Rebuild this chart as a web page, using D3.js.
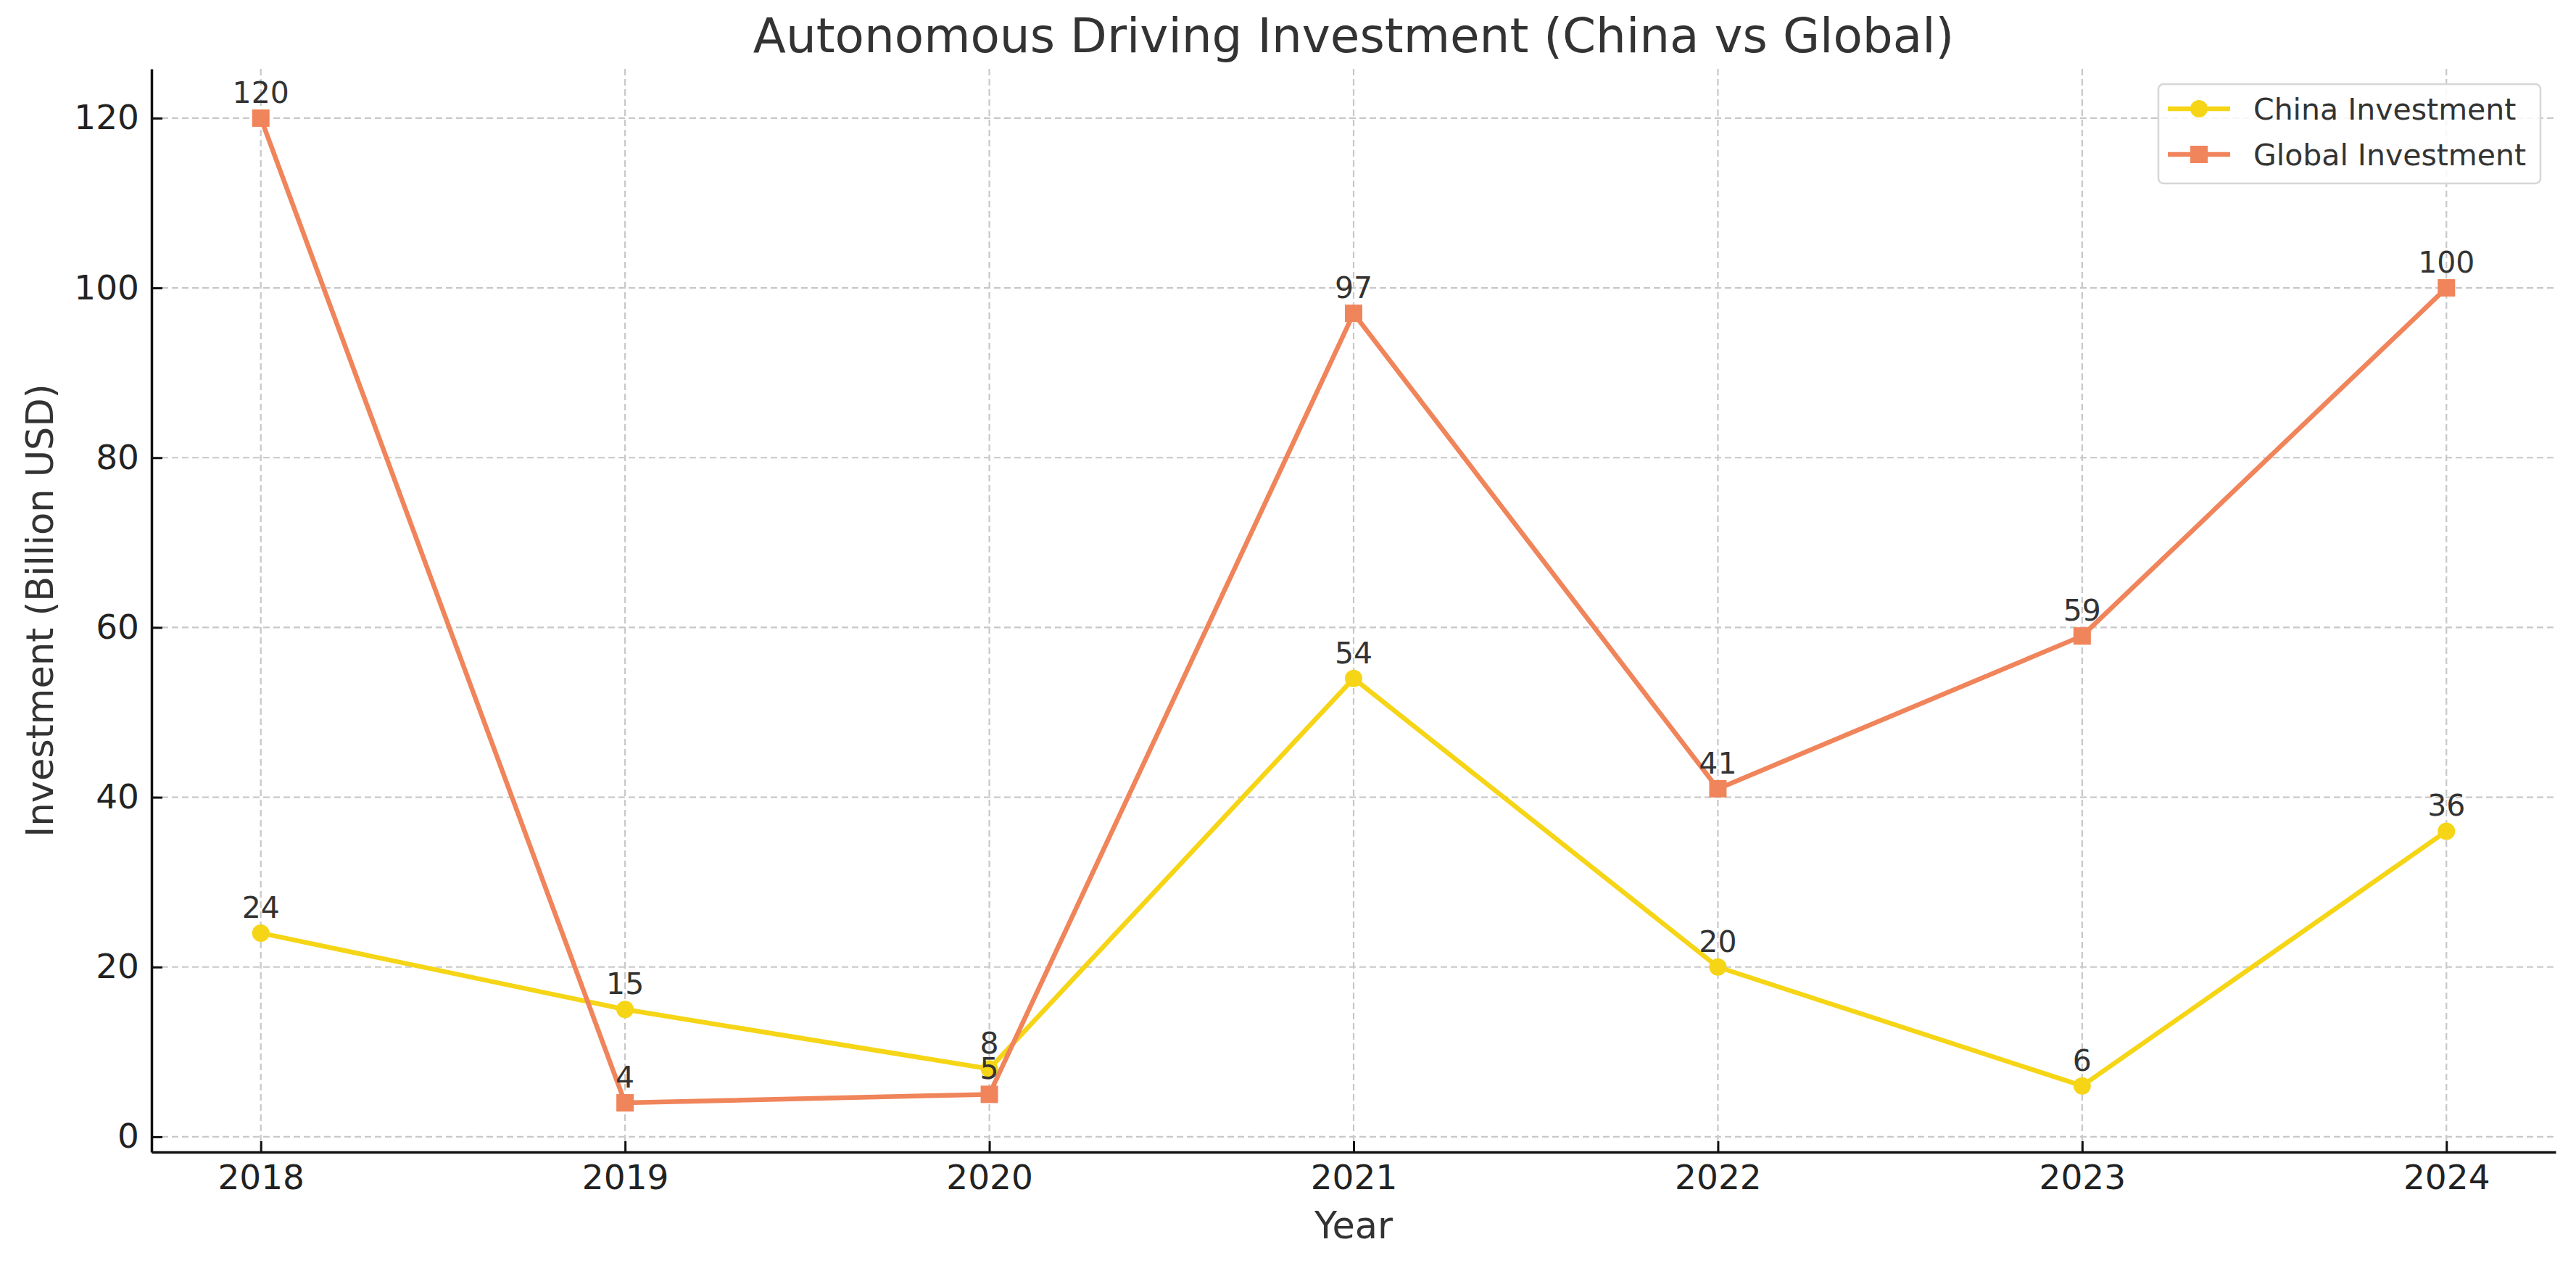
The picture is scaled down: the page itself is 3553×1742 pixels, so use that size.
<!DOCTYPE html>
<html>
<head>
<meta charset="utf-8">
<script src="https://cdn.jsdelivr.net/npm/d3@7"></script>
<style>
  html, body { margin: 0; padding: 0; background: #fff; }
  svg { display: block; font-family: "DejaVu Sans", sans-serif; }
</style>
</head>
<body>
<svg id="chart" width="3553" height="1742"></svg>
<script>
const years = [2018, 2019, 2020, 2021, 2022, 2023, 2024];
const chinaInvestment = [24, 15, 8, 54, 20, 6, 36];
const globalInvestment = [120, 4, 5, 97, 41, 59, 100];
const yTicks = [0, 20, 40, 60, 80, 100, 120];
const seriesNames = ["China Investment", "Global Investment"];

const plotLeft = 209, plotRight = 3525, plotTop = 95, plotBottom = 1589;
const chinaColor = "#F5D516";
const globalColor = "#F0845A";
const textColor = "#333333";

const svg = d3.select("#chart");

const x = d3.scaleLinear().domain([2017.7, 2024.3]).range([plotLeft, plotRight]);
const y = d3.scaleLinear().domain([-1.8, 125.8]).range([plotBottom, plotTop]);

// grid
const grid = svg.append("g").attr("class", "grid");
grid.selectAll("line.gx").data(years).enter().append("line")
  .attr("x1", d => x(d)).attr("x2", d => x(d))
  .attr("y1", plotTop).attr("y2", plotBottom)
  .attr("stroke", "#c8c8c8").attr("stroke-width", 2.2).attr("stroke-dasharray", "9,5");
grid.selectAll("line.gy").data(yTicks).enter().append("line")
  .attr("x1", plotLeft).attr("x2", plotRight)
  .attr("y1", d => y(d)).attr("y2", d => y(d))
  .attr("stroke", "#c8c8c8").attr("stroke-width", 2.2).attr("stroke-dasharray", "9,5");

// axes
const xAxis = d3.axisBottom(x).tickValues(years).tickFormat(d3.format("d"))
  .tickSizeInner(-15).tickSizeOuter(0).tickPadding(18);
const yAxis = d3.axisLeft(y).tickValues(yTicks).tickFormat(d3.format("d"))
  .tickSizeInner(-15).tickSizeOuter(0).tickPadding(17);

const gx = svg.append("g").attr("transform", `translate(0,${plotBottom})`).call(xAxis);
const gy = svg.append("g").attr("transform", `translate(${plotLeft},0)`).call(yAxis);
[gx, gy].forEach(g => {
  g.select(".domain").attr("stroke", "#111").attr("stroke-width", 3.5);
  g.selectAll(".tick line").attr("stroke", "#111").attr("stroke-width", 3);
  g.selectAll(".tick text").attr("fill", "#222").attr("font-size", 47)
    .attr("font-family", "DejaVu Sans, sans-serif");
});

// lines
const line = d3.line().x((d, i) => x(years[i])).y(d => y(d));
const series = [
  { name: seriesNames[0], values: chinaInvestment, color: chinaColor, marker: "circle" },
  { name: seriesNames[1], values: globalInvestment, color: globalColor, marker: "square" }
];

series.forEach(s => {
  svg.append("path").datum(s.values)
    .attr("d", line).attr("fill", "none")
    .attr("stroke", s.color).attr("stroke-width", 6.5)
    .attr("stroke-linejoin", "round").attr("stroke-linecap", "round");
  const g = svg.append("g");
  if (s.marker === "circle") {
    g.selectAll("circle").data(s.values).enter().append("circle")
      .attr("cx", (d, i) => x(years[i])).attr("cy", d => y(d))
      .attr("r", 12).attr("fill", s.color);
  } else {
    g.selectAll("rect").data(s.values).enter().append("rect")
      .attr("x", (d, i) => x(years[i]) - 12).attr("y", d => y(d) - 12)
      .attr("width", 24).attr("height", 24).attr("fill", s.color);
  }
});

// data labels
series.forEach(s => {
  svg.append("g").selectAll("text").data(s.values).enter().append("text")
    .attr("x", (d, i) => x(years[i])).attr("y", d => y(d) - 21)
    .attr("text-anchor", "middle").attr("font-size", 41).attr("fill", textColor)
    .text(d => d);
});

// title and axis labels
svg.append("text").attr("x", (plotLeft + plotRight) / 2).attr("y", 72)
  .attr("text-anchor", "middle").attr("font-size", 66).attr("fill", textColor)
  .text("Autonomous Driving Investment (China vs Global)");
svg.append("text").attr("x", (plotLeft + plotRight) / 2).attr("y", 1708)
  .attr("text-anchor", "middle").attr("font-size", 51).attr("fill", textColor)
  .text("Year");
svg.append("text").attr("transform", `translate(73,${(plotTop + plotBottom) / 2}) rotate(-90)`)
  .attr("text-anchor", "middle").attr("font-size", 51).attr("fill", textColor)
  .text("Investment (Billion USD)");

// legend
const lg = svg.append("g");
lg.append("rect").attr("x", 2977).attr("y", 116).attr("width", 527).attr("height", 137)
  .attr("rx", 7).attr("fill", "#fff").attr("fill-opacity", 0.85)
  .attr("stroke", "#d6d6d6").attr("stroke-width", 2.5);
const legendRows = [150, 213];
series.forEach((s, i) => {
  const yy = legendRows[i];
  lg.append("line").attr("x1", 2990).attr("x2", 3076).attr("y1", yy).attr("y2", yy)
    .attr("stroke", s.color).attr("stroke-width", 6.5);
  if (s.marker === "circle") {
    lg.append("circle").attr("cx", 3033).attr("cy", yy).attr("r", 12).attr("fill", s.color);
  } else {
    lg.append("rect").attr("x", 3021).attr("y", yy - 12).attr("width", 24).attr("height", 24).attr("fill", s.color);
  }
  lg.append("text").attr("x", 3108).attr("y", yy).attr("dy", "0.36em")
    .attr("font-size", 41).attr("fill", textColor).text(s.name);
});
</script>
</body>
</html>
